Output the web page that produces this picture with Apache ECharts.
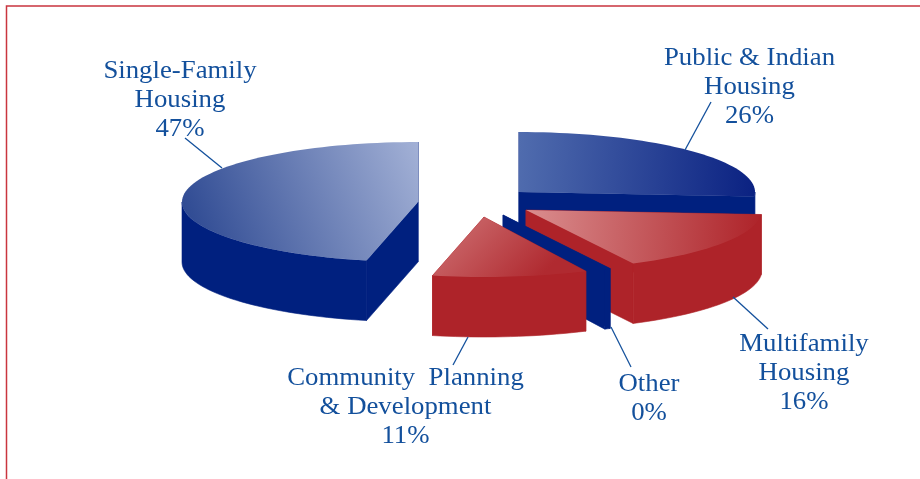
<!DOCTYPE html>
<html>
<head>
<meta charset="utf-8">
<style>html,body{margin:0;padding:0;background:#fff}#chart{width:920px;height:479px}</style>
<script src="https://cdn.jsdelivr.net/npm/echarts@6/dist/echarts.min.js"></script>
</head>
<body>
<div id="chart"></div>
<script>
// Budget shares, clockwise from twelve o'clock
const categories = ['Public & Indian\nHousing', 'Multifamily\nHousing', 'Other', 'Community  Planning\n& Development', 'Single-Family\nHousing'];
const values = [26.2, 16.3, 0.4, 10.6, 46.5];

// Where each exploded slice sits, and its label and leader line
const layouts = [
  {cx: 519, cy: 192, top: ['#506cae', '#0b2282'], dir: [0, 0.2, 1, 0.4], wall: '#00207f', text: [749.5, 87], leader: [[685, 150], [711, 102]]},
  {cx: 526, cy: 210, top: ['#da8e8f', '#ae2329'], dir: [0, 0, 1, 0.3], wall: '#ae2329', text: [804, 373], leader: [[733, 297], [768, 329]]},
  {cx: 503, cy: 215, top: ['#00207f', '#00207f'], dir: [0, 0, 1, 0], wall: '#00207f', text: [649, 399], leader: [[611, 327], [631, 367]]},
  {cx: 484, cy: 217, top: ['#c76063', '#b02a30'], dir: [0.3, 0, 0.7, 1], wall: '#ae2329', text: [405.5, 407], leader: [[468, 337], [453, 365]]},
  {cx: 418, cy: 202, top: ['#a3b1d6', '#2a4690'], dir: [1, 0, 0, 0.8], wall: '#00207f', text: [180, 100], leader: [[222, 168], [185, 138]]}
];

const radiusX = 236, radiusY = 60, depth = 60;
const inkColor = '#13509c';

const total = values.reduce((a, b) => a + b, 0);
const startOf = i => values.slice(0, i).reduce((a, b) => a + b, 0) / total * 360;

function rim(l, deg, drop) {
  const t = deg * Math.PI / 180;
  return [l.cx + radiusX * Math.sin(t), l.cy - radiusY * Math.cos(t) + drop];
}
function arc(l, from, to, drop) {
  const pts = [];
  const n = Math.max(2, Math.ceil((to - from) / 2));
  for (let k = 0; k <= n; k++) pts.push(rim(l, from + (to - from) * k / n, drop));
  return pts;
}
function wallPoly(points, color) {
  return {type: 'polygon', shape: {points}, style: {fill: color, stroke: color, lineWidth: 0.6}};
}

function renderSlice(params, api) {
  const i = params.dataIndex;
  const l = layouts[i];
  const a0 = startOf(i);
  const a1 = a0 + api.value(0) / total * 360;
  const kids = [];
  // cut faces
  [a0, a1].forEach(a => {
    const p = rim(l, a, 0), q = rim(l, a, depth);
    kids.push(wallPoly([[l.cx, l.cy], p, q, [l.cx, l.cy + depth]], l.wall));
  });
  // outer wall, only where it faces the viewer
  const w0 = Math.max(a0, 90), w1 = Math.min(a1, 270);
  if (w1 > w0) {
    kids.push(wallPoly(arc(l, w0, w1, 0).concat(arc(l, w0, w1, depth).reverse()), l.wall));
  }
  // top surface
  const d = l.dir;
  kids.push({
    type: 'polygon',
    shape: {points: [[l.cx, l.cy]].concat(arc(l, a0, a1, 0))},
    style: {
      fill: {
        type: 'linear', x: d[0], y: d[1], x2: d[2], y2: d[3],
        colorStops: [{offset: 0, color: l.top[0]}, {offset: 1, color: l.top[1]}]
      },
      stroke: null
    }
  });
  // leader line
  kids.push({type: 'polyline', shape: {points: l.leader}, style: {stroke: inkColor, lineWidth: 1.3, fill: null}});
  // label
  kids.push({
    type: 'text', x: l.text[0], y: l.text[1], scaleX: 1.03,
    style: {
      text: categories[i] + '\n' + Math.round(api.value(0)) + '%',
      fill: inkColor, font: '26px "Liberation Serif"', lineHeight: 29,
      align: 'center', verticalAlign: 'middle'
    }
  });
  return {type: 'group', children: kids};
}

const chart = echarts.init(document.getElementById('chart'), null, {renderer: 'canvas'});
chart.setOption({
  animation: false,
  backgroundColor: '#ffffff',
  graphic: [{
    type: 'polyline', silent: true,
    shape: {points: [[6.5, 479], [6.5, 6], [920, 6]]},
    style: {stroke: '#c9353f', lineWidth: 1.5, fill: null}
  }],
  series: [{
    type: 'custom',
    coordinateSystem: 'none',
    renderItem: renderSlice,
    data: categories.map((name, i) => ({name, value: values[i]}))
  }]
});
</script>
</body>
</html>
